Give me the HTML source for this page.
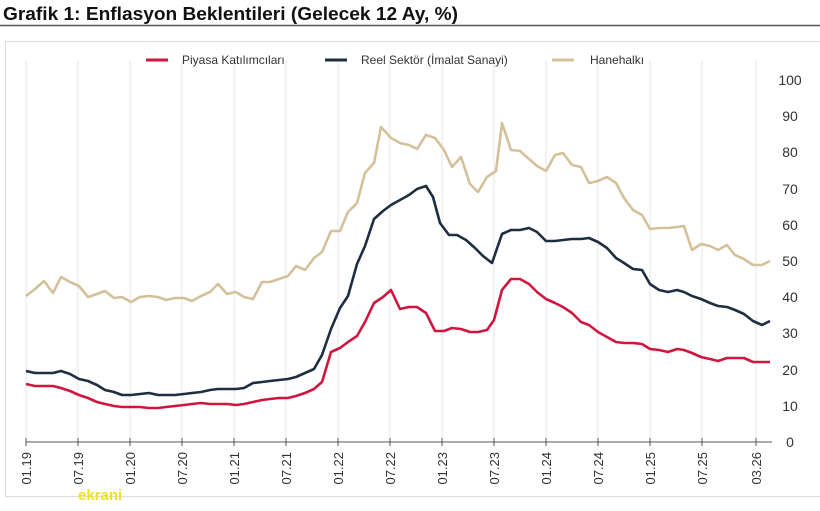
<!DOCTYPE html>
<html><head><meta charset="utf-8"><style>
body{margin:0;background:#fff;width:820px;height:506px;overflow:hidden;font-family:"Liberation Sans",sans-serif}
</style></head><body>
<svg width="820" height="506" xmlns="http://www.w3.org/2000/svg" font-family="Liberation Sans, sans-serif">
<text x="3" y="20" font-size="18" font-weight="bold" fill="#111" textLength="455" lengthAdjust="spacingAndGlyphs">Grafik 1: Enflasyon Beklentileri (Gelecek 12 Ay, %)</text>
<line x1="0" y1="25.5" x2="820" y2="25.5" stroke="#555" stroke-width="1.5"/>
<rect x="5.5" y="41.5" width="820" height="455" fill="none" stroke="#ddd"/>
<g stroke="#e6e6e6" stroke-width="1">
<line x1="26" y1="60" x2="26" y2="442"/><line x1="78" y1="60" x2="78" y2="442"/><line x1="130" y1="60" x2="130" y2="442"/><line x1="182" y1="60" x2="182" y2="442"/><line x1="234" y1="60" x2="234" y2="442"/><line x1="286" y1="60" x2="286" y2="442"/><line x1="338" y1="60" x2="338" y2="442"/><line x1="390" y1="60" x2="390" y2="442"/><line x1="442" y1="60" x2="442" y2="442"/><line x1="494" y1="60" x2="494" y2="442"/><line x1="546" y1="60" x2="546" y2="442"/><line x1="598" y1="60" x2="598" y2="442"/><line x1="650" y1="60" x2="650" y2="442"/><line x1="702" y1="60" x2="702" y2="442"/><line x1="756" y1="60" x2="756" y2="442"/>
</g>
<g stroke="#555" stroke-width="1"><line x1="26" y1="442" x2="772" y2="442"/>
<line x1="26" y1="438" x2="26" y2="446"/><line x1="78" y1="438" x2="78" y2="446"/><line x1="130" y1="438" x2="130" y2="446"/><line x1="182" y1="438" x2="182" y2="446"/><line x1="234" y1="438" x2="234" y2="446"/><line x1="286" y1="438" x2="286" y2="446"/><line x1="338" y1="438" x2="338" y2="446"/><line x1="390" y1="438" x2="390" y2="446"/><line x1="442" y1="438" x2="442" y2="446"/><line x1="494" y1="438" x2="494" y2="446"/><line x1="546" y1="438" x2="546" y2="446"/><line x1="598" y1="438" x2="598" y2="446"/><line x1="650" y1="438" x2="650" y2="446"/><line x1="702" y1="438" x2="702" y2="446"/><line x1="756" y1="438" x2="756" y2="446"/></g>
<g font-size="14" fill="#333" text-anchor="middle">
<text x="790" y="447">0</text><text x="790" y="411">10</text><text x="790" y="375">20</text><text x="790" y="338">30</text><text x="790" y="302">40</text><text x="790" y="266">50</text><text x="790" y="230">60</text><text x="790" y="194">70</text><text x="790" y="157">80</text><text x="790" y="121">90</text><text x="790" y="85">100</text>
</g>
<g font-size="13" fill="#333" text-anchor="end">
<text transform="translate(31,452) rotate(-90)">01.19</text><text transform="translate(83,452) rotate(-90)">07.19</text><text transform="translate(135,452) rotate(-90)">01.20</text><text transform="translate(187,452) rotate(-90)">07.20</text><text transform="translate(239,452) rotate(-90)">01.21</text><text transform="translate(291,452) rotate(-90)">07.21</text><text transform="translate(343,452) rotate(-90)">01.22</text><text transform="translate(395,452) rotate(-90)">07.22</text><text transform="translate(447,452) rotate(-90)">01.23</text><text transform="translate(499,452) rotate(-90)">07.23</text><text transform="translate(551,452) rotate(-90)">01.24</text><text transform="translate(603,452) rotate(-90)">07.24</text><text transform="translate(655,452) rotate(-90)">01.25</text><text transform="translate(707,452) rotate(-90)">07.25</text><text transform="translate(761,452) rotate(-90)">03.26</text>
</g>
<g font-size="12" fill="#333">
<line x1="146" y1="60" x2="168" y2="60" stroke="#d0163f" stroke-width="3"/><text x="182" y="64">Piyasa Katılımcıları</text>
<line x1="325" y1="60" x2="347" y2="60" stroke="#1e2d40" stroke-width="3"/><text x="361" y="64">Reel Sektör (İmalat Sanayi)</text>
<line x1="552" y1="60" x2="574" y2="60" stroke="#d4c09a" stroke-width="3"/><text x="590" y="64">Hanehalkı</text>
</g>
<g fill="none" stroke-width="2.6" stroke-linejoin="round">
<polyline stroke="#d4c09a" points="26,296 35,289 44,281 53,293 61,277 70,282 79,286 88,297 97,294 105,291 114,298 122,297 131,302 140,297 149,296 158,297 166,300 175,298 184,298 192,301 201,296 210,292 218,284 227,294 236,292 244,297 253,299 262,282 270,282 279,279 288,276 296,266 305,270 314,258 322,252 331,231 340,231 348,212 357,203 365,173 374,163 381,127 391,138 400,143 409,145 417,149 426,135 435,138 444,150 452,167 461,157 470,184 478,192 487,177 496,171 502,123 511,150 520,151 529,159 537,166 546,171 555,155 563,153 572,165 581,167 589,183 598,181 607,177 616,183 624,198 633,210 642,215 650,229 659,228 668,228 677,227 684,226 692,250 701,244 710,246 718,250 727,245 735,255 744,259 753,265 762,265 770,261"/>
<polyline stroke="#1e2d40" points="26,371 35,373 44,373 53,373 61,371 70,374 79,379 88,381 97,385 105,390 114,392 122,395 131,395 140,394 149,393 158,395 166,395 175,395 184,394 192,393 201,392 210,390 218,389 227,389 236,389 244,388 253,383 262,382 270,381 279,380 288,379 296,377 305,373 314,369 322,355 331,329 340,308 348,296 357,264 365,246 374,219 383,211 391,205 400,200 409,195 417,189 426,186 433,197 440,223 449,235 457,235 466,240 475,248 483,256 492,263 502,234 511,230 520,230 529,228 537,232 546,241 555,241 563,240 572,239 581,239 589,238 598,242 607,248 616,258 624,263 633,269 642,270 650,284 659,290 668,292 677,290 684,292 692,296 701,299 710,303 718,306 727,307 735,310 744,314 753,321 762,325 770,321"/>
<polyline stroke="#d0163f" points="26,384 35,386 44,386 53,386 61,388 70,391 79,395 88,398 97,402 105,404 114,406 122,407 131,407 140,407 149,408 158,408 166,407 175,406 184,405 192,404 201,403 210,404 218,404 227,404 236,405 244,404 253,402 262,400 270,399 279,398 288,398 296,396 305,393 314,389 322,382 331,352 340,348 348,342 357,336 365,322 374,303 383,297 391,290 400,309 409,307 417,307 426,313 435,331 444,331 452,328 461,329 470,332 478,332 487,330 494,320 502,290 511,279 520,279 529,284 537,292 546,299 555,303 563,307 572,313 581,322 589,325 598,332 607,337 616,342 624,343 633,343 642,344 650,349 659,350 668,352 677,349 684,350 692,353 701,357 710,359 718,361 727,358 735,358 744,358 753,362 762,362 770,362"/>
</g>
<text x="78" y="500" font-size="15" font-weight="bold" fill="#f0e020">ekrani</text>
</svg>
</body></html>
